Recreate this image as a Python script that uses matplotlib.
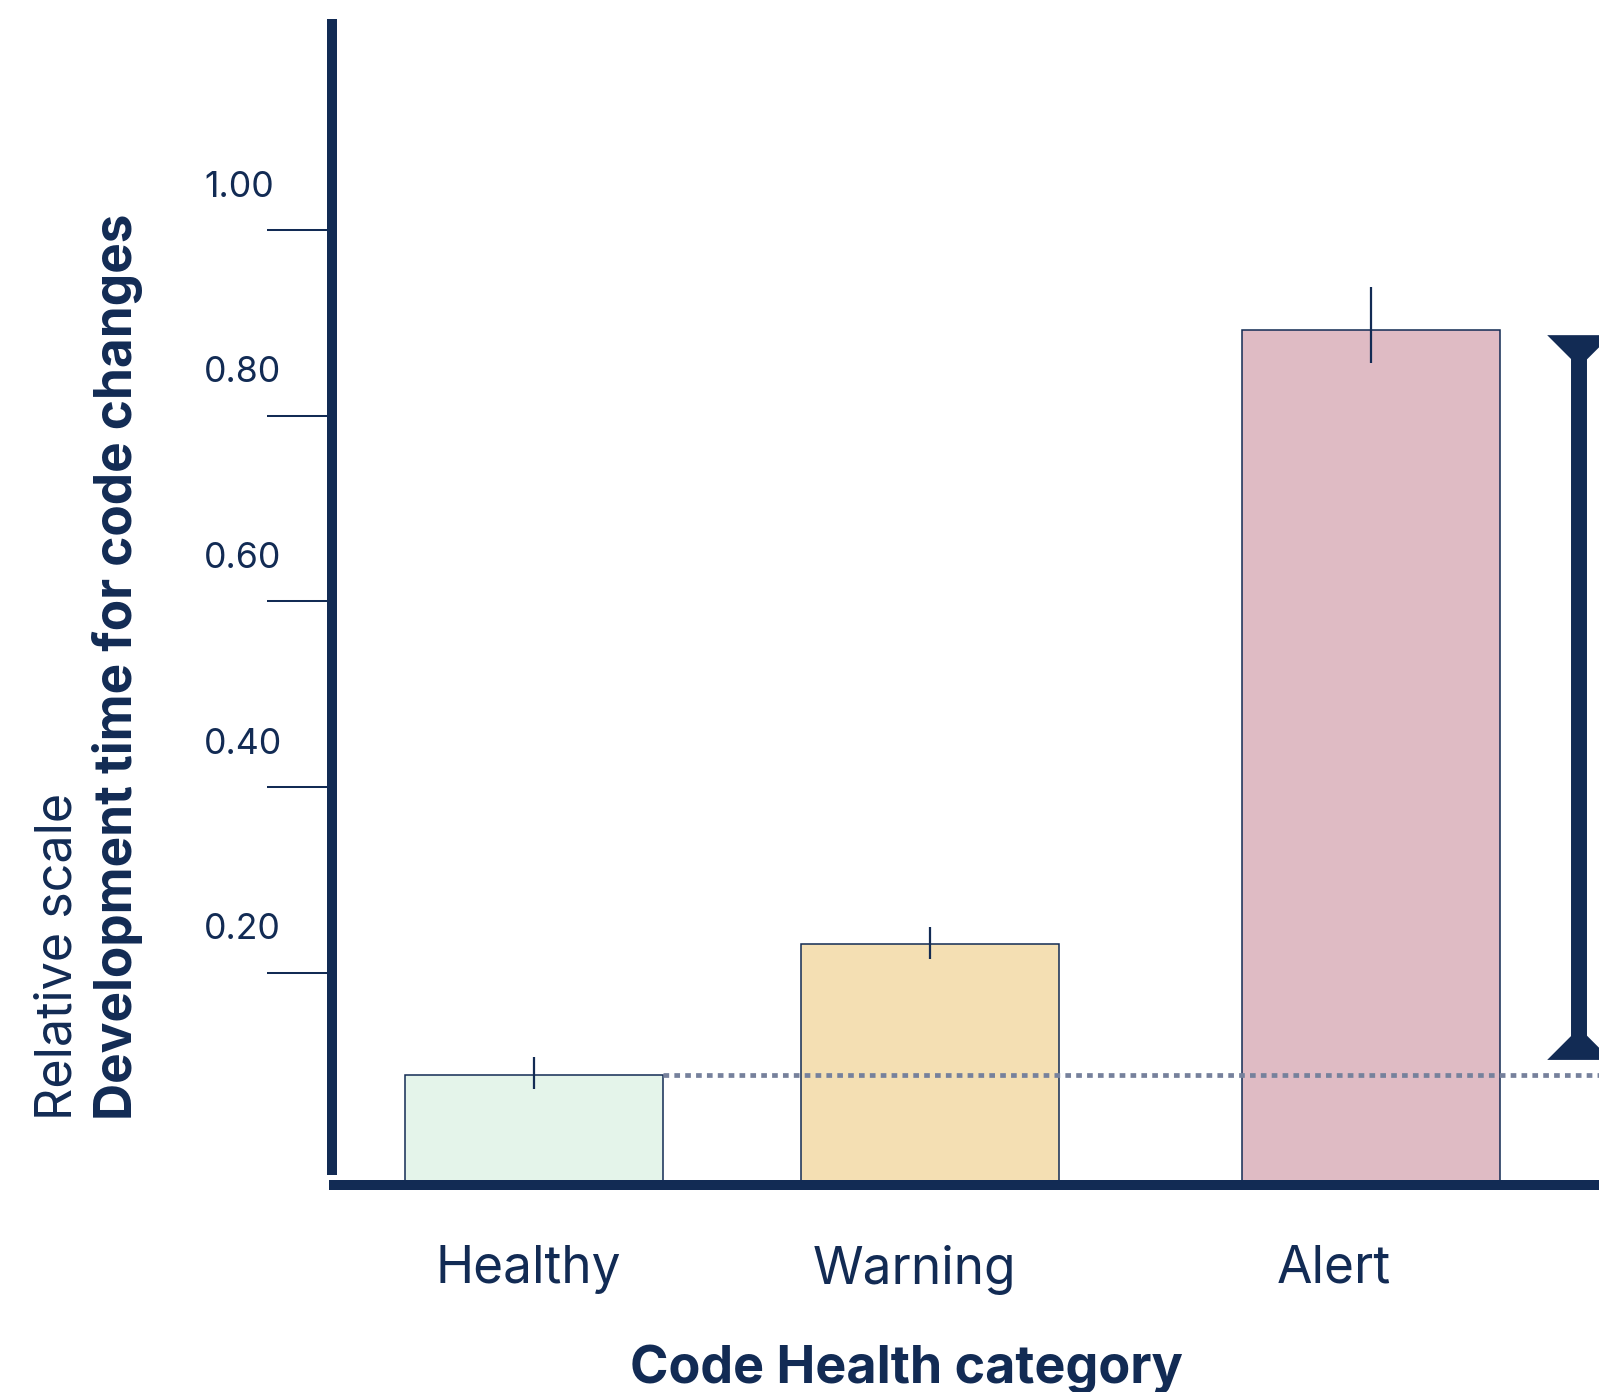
import numpy as np
import matplotlib
matplotlib.use("Agg")
import matplotlib.pyplot as plt
from matplotlib import transforms

# data
categories = ["Healthy", "Warning", "Alert"]
dev_time = [0.090, 0.231, 0.893]        # relative development time
err_low = [0.015, 0.0165, 0.036]        # error bars below the mean
err_high = [0.0194, 0.0177, 0.0456]     # error bars above the mean
tick_values = [0.20, 0.40, 0.60, 0.80, 1.00]
tick_labels = ["0.20", "0.40", "0.60", "0.80", "1.00"]
gap_range = [0.106, 0.887]              # bracket Healthy -> Alert

# layout
bar_pos = [1.0, 2.0, 3.114]
label_pos = [0.985, 1.96, 3.02]
bracket_x = 3.639
bar_width = 0.6515
xlim = (0.49, 3.689)
ylim = (-0.0288, 1.2277)

navy = "#122b54"
fills = ["#e4f4ea", "#f4dfb3", "#dfbbc4"]
dot_color = "#76819c"

plt.rcParams["font.family"] = ["Inter", "DejaVu Sans"]

fig = plt.figure(figsize=(15.99, 13.92), dpi=100)
ax = fig.add_axes([332 / 1599, 207 / 1392, 1267 / 1599, 1166 / 1392])
ax.set_xlim(*xlim)
ax.set_ylim(*ylim)

# bars reach down to the base line
heights = np.array(dev_time) - ylim[0]
ax.bar(bar_pos, heights, bottom=ylim[0], width=bar_width, color=fills,
       edgecolor=navy, linewidth=1.1, zorder=1)
ax.errorbar(bar_pos, dev_time, yerr=[err_low, err_high], fmt="none",
            ecolor=navy, elinewidth=1.6, capsize=0, zorder=4)

# dotted reference line at the Healthy level
ax.plot([bar_pos[0] + bar_width / 2, xlim[1]], [dev_time[0], dev_time[0]],
        color=dot_color, linewidth=3.4, linestyle=(0, (1.2, 1.1)),
        dash_capstyle="butt", zorder=3, clip_on=False)

# bracket on the right
hw = 0.0808   # half width of the heads in x units
hh = 0.0345   # head height in y units
lo, hi = gap_range
ax.plot([bracket_x, bracket_x], [lo + 0.01, hi - 0.01], color=navy,
        linewidth=11.5, solid_capstyle="butt", zorder=5, clip_on=False)
ax.fill([bracket_x - hw, bracket_x + hw, bracket_x], [hi, hi, hi - hh],
        color=navy, zorder=5, clip_on=False, linewidth=0)
ax.fill([bracket_x - hw, bracket_x + hw, bracket_x], [lo, lo, lo + hh],
        color=navy, zorder=5, clip_on=False, linewidth=0)

# spines
for side in ["top", "right"]:
    ax.spines[side].set_visible(False)
for side in ["left", "bottom"]:
    ax.spines[side].set_linewidth(7.2)
    ax.spines[side].set_color(navy)
    ax.spines[side].set_capstyle("butt")
    ax.spines[side].set_zorder(6)
ax.spines["left"].set_bounds(-0.018, ylim[1])
ax.spines["bottom"].set_bounds(xlim[0] - 0.008, xlim[1])

# y ticks: lines only, labels sit above them
ax.set_yticks(tick_values)
ax.set_yticklabels([])
ax.tick_params(axis="y", length=46.8, width=1.45, color=navy, direction="out")
label_tr = transforms.blended_transform_factory(ax.transAxes, ax.transData) + \
    transforms.ScaledTranslation(0, 31 / 72, fig.dpi_scale_trans)
for v, s in zip(tick_values, tick_labels):
    ax.text(-0.101, v, s, transform=label_tr, ha="left", va="center",
            fontsize=25.7, color=navy)

# category labels
ax.set_xticks(label_pos)
ax.set_xticklabels(categories, fontsize=37, color=navy)
ax.tick_params(axis="x", length=0, pad=43)

# axis titles
px = lambda x, y: (x / 1599, 1 - y / 1392)
fig.text(*px(71, 1120), "Relative scale", rotation=90, rotation_mode="anchor",
         ha="left", va="baseline", fontsize=36.2, color=navy)
fig.text(*px(132, 1120), "Development time for code changes", rotation=90,
         rotation_mode="anchor", ha="left", va="baseline", fontsize=37,
         fontweight="bold", color=navy)
fig.text(*px(630, 1383), "Code Health category", ha="left", va="baseline",
         fontsize=37.5, fontweight="bold", color=navy)

fig.savefig("out.png", dpi=100)
